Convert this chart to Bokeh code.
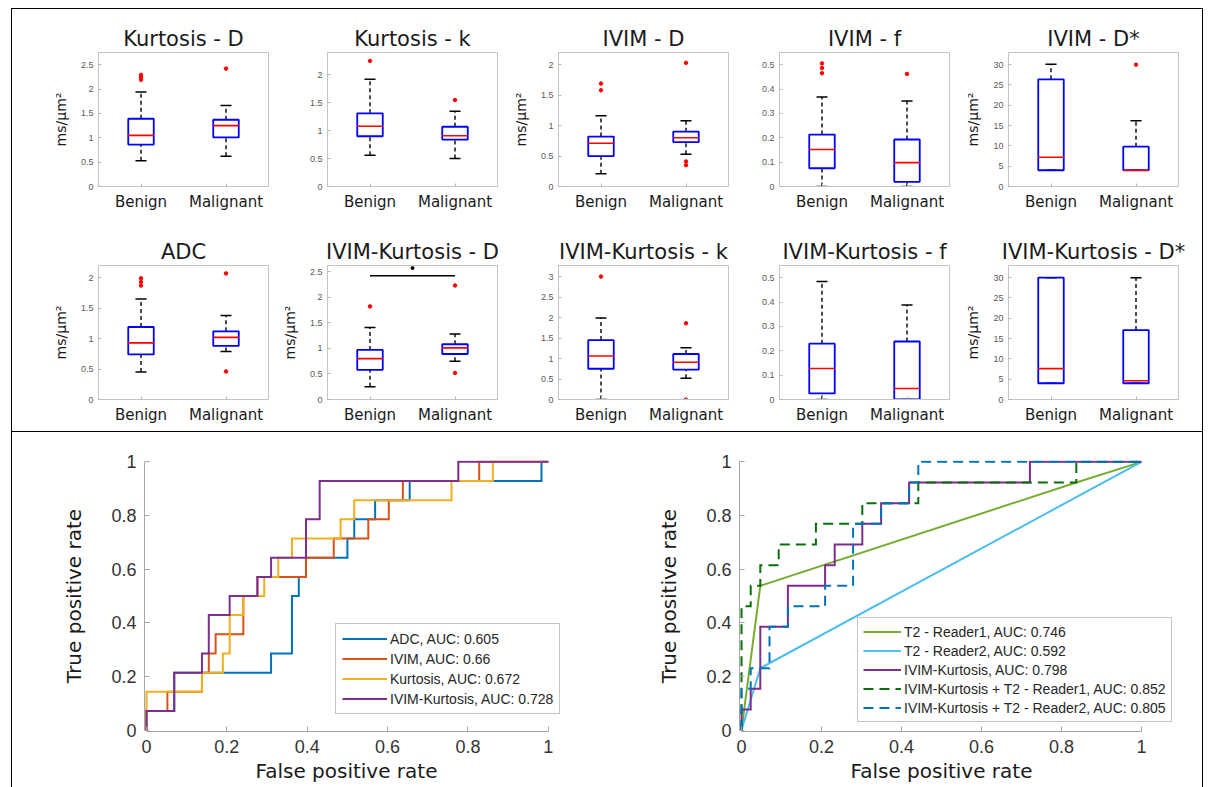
from bokeh.plotting import figure
from bokeh.models import (FixedTicker, NumeralTickFormatter, Range1d, Label,
                          Legend, LegendItem, Spacer, Title)
from bokeh.layouts import row, column
from bokeh.embed import file_html
from bokeh.resources import INLINE

# ------------------------------------------------------------------ data
panel_titles = ["Kurtosis - D", "Kurtosis - k", "IVIM - D", "IVIM - f", "IVIM - D*",
                "ADC", "IVIM-Kurtosis - D", "IVIM-Kurtosis - k", "IVIM-Kurtosis - f",
                "IVIM-Kurtosis - D*"]
panel_units = ["ms/µm²", "", "ms/µm²", "", "ms/µm²",
               "ms/µm²", "ms/µm²", "", "", "ms/µm²"]
panel_ymax = [2.75, 2.4, 2.2, 0.55, 33, 2.2, 2.62, 3.27, 0.55, 33]
panel_yticks = [[0, 0.5, 1, 1.5, 2, 2.5], [0, 0.5, 1, 1.5, 2], [0, 0.5, 1, 1.5, 2],
                [0, 0.1, 0.2, 0.3, 0.4, 0.5], [0, 5, 10, 15, 20, 25, 30],
                [0, 0.5, 1, 1.5, 2], [0, 0.5, 1, 1.5, 2, 2.5], [0, 0.5, 1, 1.5, 2, 2.5, 3],
                [0, 0.1, 0.2, 0.3, 0.4, 0.5], [0, 5, 10, 15, 20, 25, 30]]
groups = ["Benign", "Malignant"]

benign_q1 = [0.86, 0.90, 0.50, 0.075, 4.0, 0.74, 0.58, 0.75, 0.025, 4.0]
benign_med = [1.05, 1.08, 0.71, 0.152, 7.2, 0.93, 0.80, 1.06, 0.127, 7.6]
benign_q3 = [1.39, 1.31, 0.82, 0.213, 26.4, 1.19, 0.97, 1.45, 0.229, 30.0]
benign_lo = [0.53, 0.56, 0.21, 0.0, 4.0, 0.45, 0.25, 0.0, 0.0, 4.0]
benign_hi = [1.94, 1.92, 1.16, 0.367, 30.1, 1.65, 1.41, 1.99, 0.484, 30.0]
benign_out = [[2.19, 2.24, 2.29], [2.25], [1.58, 1.69], [0.465, 0.486, 0.505], [],
              [1.87, 1.93, 1.99], [1.82], [3.0], [], []]

malig_q1 = [1.01, 0.84, 0.73, 0.019, 4.0, 0.88, 0.89, 0.73, 0.0, 4.0]
malig_med = [1.25, 0.91, 0.80, 0.098, 4.0, 1.02, 1.01, 0.91, 0.045, 4.6]
malig_q3 = [1.37, 1.07, 0.90, 0.193, 9.8, 1.12, 1.08, 1.11, 0.238, 17.1]
malig_lo = [0.62, 0.50, 0.53, 0.0, 4.0, 0.79, 0.75, 0.52, 0.0, 4.0]
malig_hi = [1.66, 1.35, 1.08, 0.351, 16.2, 1.38, 1.28, 1.26, 0.388, 30.0]
malig_out = [[2.42], [1.55], [0.35, 0.41, 2.03], [0.462], [30.0],
             [0.46, 2.07], [0.52, 2.23], [0.0, 1.86], [], []]

sig_bar_y = 2.42     # IVIM-Kurtosis - D significance bar
sig_star_y = 2.57

# ROC (b)
adc_fpr = [0, 0, 0.069, 0.069, 0.310, 0.310, 0.362, 0.362, 0.379, 0.379, 0.397, 0.397,
           0.500, 0.500, 0.517, 0.517, 0.569, 0.569, 0.655, 0.655, 0.983, 0.983, 1]
adc_tpr = [0, 0.071, 0.071, 0.214, 0.214, 0.286, 0.286, 0.5, 0.5, 0.571, 0.571, 0.643,
           0.643, 0.714, 0.714, 0.786, 0.786, 0.857, 0.857, 0.929, 0.929, 1, 1]
ivim_fpr = [0, 0, 0.052, 0.052, 0.138, 0.138, 0.155, 0.155, 0.172, 0.172, 0.241, 0.241,
            0.276, 0.276, 0.397, 0.397, 0.466, 0.466, 0.552, 0.552, 0.603, 0.603,
            0.638, 0.638, 0.828, 0.828, 1]
ivim_tpr = [0, 0.071, 0.071, 0.143, 0.143, 0.214, 0.214, 0.286, 0.286, 0.357, 0.357, 0.5,
            0.5, 0.571, 0.571, 0.643, 0.643, 0.714, 0.714, 0.786, 0.786, 0.857, 0.857,
            0.929, 0.929, 1, 1]
kurt_fpr = [0, 0, 0.138, 0.138, 0.190, 0.190, 0.207, 0.207, 0.241, 0.241, 0.293, 0.293,
            0.328, 0.328, 0.362, 0.362, 0.483, 0.483, 0.517, 0.517, 0.759, 0.759,
            0.862, 0.862, 1]
kurt_tpr = [0, 0.143, 0.143, 0.214, 0.214, 0.286, 0.286, 0.429, 0.429, 0.5, 0.5, 0.571,
            0.571, 0.643, 0.643, 0.714, 0.714, 0.786, 0.786, 0.857, 0.857, 0.929, 0.929,
            1, 1]
ik_fpr = [0, 0, 0.069, 0.069, 0.138, 0.138, 0.155, 0.155, 0.207, 0.207, 0.276, 0.276,
          0.310, 0.310, 0.397, 0.397, 0.431, 0.431, 0.776, 0.776, 1]
ik_tpr = [0, 0.071, 0.071, 0.214, 0.214, 0.286, 0.286, 0.429, 0.429, 0.5, 0.5, 0.571,
          0.571, 0.643, 0.643, 0.786, 0.786, 0.929, 0.929, 1, 1]

# ROC (c)
t2r1_fpr = [0, 0.047, 0.837, 1]
t2r1_tpr = [0, 0.538, 0.923, 1]
t2r2_fpr = [0, 0.047, 1]
t2r2_tpr = [0, 0.231, 1]
ikc_fpr = [0, 0, 0.023, 0.023, 0.047, 0.047, 0.116, 0.116, 0.209, 0.209, 0.233, 0.233,
           0.302, 0.302, 0.349, 0.349, 0.419, 0.419, 0.721, 0.721, 1]
ikc_tpr = [0, 0.077, 0.077, 0.154, 0.154, 0.385, 0.385, 0.538, 0.538, 0.615, 0.615, 0.692,
           0.692, 0.769, 0.769, 0.846, 0.846, 0.923, 0.923, 1, 1]
ikr1_fpr = [0, 0, 0.023, 0.023, 0.047, 0.047, 0.093, 0.093, 0.186, 0.186, 0.302, 0.302,
            0.442, 0.442, 0.837, 0.837, 1]
ikr1_tpr = [0, 0.462, 0.462, 0.538, 0.538, 0.615, 0.615, 0.692, 0.692, 0.769, 0.769,
            0.846, 0.846, 0.923, 0.923, 1, 1]
ikr2_fpr = [0, 0, 0.023, 0.023, 0.070, 0.070, 0.116, 0.116, 0.209, 0.209, 0.279, 0.279,
            0.349, 0.349, 0.419, 0.419, 0.442, 0.442, 1]
ikr2_tpr = [0, 0.154, 0.154, 0.231, 0.231, 0.385, 0.385, 0.462, 0.462, 0.538, 0.538,
            0.769, 0.769, 0.846, 0.846, 0.923, 0.923, 1, 1]

roc_ticks = [0, 0.2, 0.4, 0.6, 0.8, 1]
legend_b = ["ADC, AUC: 0.605", "IVIM, AUC: 0.66", "Kurtosis, AUC: 0.672",
            "IVIM-Kurtosis, AUC: 0.728"]
legend_c = ["T2 - Reader1, AUC: 0.746", "T2 - Reader2, AUC: 0.592",
            "IVIM-Kurtosis, AUC: 0.798", "IVIM-Kurtosis + T2 - Reader1, AUC: 0.852",
            "IVIM-Kurtosis + T2 - Reader2, AUC: 0.805"]

# ------------------------------------------------------------------ style
TXT_FONT = "DejaVu Sans"
NUM_FONT = "Liberation Sans"
FRAME_W, FRAME_H = 170, 134
fig_w = [265, 231, 221, 229, 244]
fig_bl = [86, 50, 50, 50, 50]


def make_box(i, col, r):
    w, bl = fig_w[col], fig_bl[col]
    br = w - bl - FRAME_W
    h, top = (222, 43) if r == 0 else (200, 34)
    p = figure(width=w, height=h, x_range=Range1d(0.5, 2.5),
               y_range=Range1d(0, panel_ymax[i]), min_border_left=bl,
               min_border_right=br, min_border_top=top,
               min_border_bottom=h - top - FRAME_H, output_backend="svg",
               toolbar_location=None, title=panel_titles[i])
    p.title.align = "center"
    p.title.text_font = TXT_FONT
    p.title.text_font_size = "21px"
    p.title.text_font_style = "normal"
    p.title.text_color = "#1a1a1a"
    p.title.standoff = 4
    p.grid.visible = False
    p.outline_line_color = "#c4c4c4"
    p.xaxis.ticker = FixedTicker(ticks=[1, 2])
    p.xaxis.major_label_overrides = {1: groups[0], 2: groups[1]}
    p.xaxis.major_label_text_font = TXT_FONT
    p.xaxis.major_label_text_font_size = "15px"
    p.xaxis.major_label_text_color = "#1a1a1a"
    p.xaxis.major_label_standoff = 6
    p.yaxis.ticker = FixedTicker(ticks=panel_yticks[i])
    p.yaxis.formatter = NumeralTickFormatter(format="0.[0]")
    p.yaxis.major_label_text_font = NUM_FONT
    p.yaxis.major_label_text_font_size = "9px"
    p.yaxis.major_label_text_color = "#595959"
    p.yaxis.major_label_standoff = 5
    for ax in (p.xaxis, p.yaxis):
        ax.axis_line_color = "#c4c4c4"
        ax.major_tick_in = 3
        ax.major_tick_out = 0
        ax.major_tick_line_color = "#b5b5b5"
        ax.minor_tick_line_color = None
    if panel_units[i]:
        p.yaxis.axis_label = panel_units[i]
        p.yaxis.axis_label_text_font = TXT_FONT
        p.yaxis.axis_label_text_font_size = "14px"
        p.yaxis.axis_label_text_font_style = "normal"
        p.yaxis.axis_label_text_color = "#1a1a1a"
        p.yaxis.axis_label_standoff = 9

    xs = [1, 2]
    q1 = [benign_q1[i], malig_q1[i]]
    q3 = [benign_q3[i], malig_q3[i]]
    md = [benign_med[i], malig_med[i]]
    lo = [benign_lo[i], malig_lo[i]]
    hi = [benign_hi[i], malig_hi[i]]
    p.segment(x0=xs, y0=q3, x1=xs, y1=hi, line_color="black", line_width=1.4,
              line_dash="4 3")
    p.segment(x0=xs, y0=lo, x1=xs, y1=q1, line_color="black", line_width=1.4,
              line_dash="4 3")
    cl = [x - 0.065 for x in xs]
    cr = [x + 0.065 for x in xs]
    p.segment(x0=cl, y0=hi, x1=cr, y1=hi, line_color="black", line_width=1.5)
    p.segment(x0=cl, y0=lo, x1=cr, y1=lo, line_color="black", line_width=1.5)
    p.quad(left=[x - 0.15 for x in xs], right=[x + 0.15 for x in xs], bottom=q1, top=q3,
           fill_color=None, line_color="#0000ff", line_width=1.8)
    p.segment(x0=[x - 0.15 for x in xs], y0=md, x1=[x + 0.15 for x in xs], y1=md,
              line_color="#ff0000", line_width=1.6)
    ox = [1] * len(benign_out[i]) + [2] * len(malig_out[i])
    oy = benign_out[i] + malig_out[i]
    if ox:
        p.scatter(ox, oy, size=3.5, color="#ff0000")
    if panel_titles[i] == "IVIM-Kurtosis - D":
        p.line([1, 2], [sig_bar_y, sig_bar_y], line_color="black", line_width=1.6)
        p.scatter([1.5], [sig_star_y], size=3, color="black")
    return p


row1 = [make_box(i, i, 0) for i in range(5)]
row2 = [make_box(5 + i, i, 1) for i in range(5)]
row1[0].add_layout(Label(x=-66, y=-27, x_units="screen", y_units="screen", text="a)",
                         text_align="center", text_baseline="middle",
                         text_font=TXT_FONT, text_font_size="21px",
                         text_color="#1a1a1a"))


def make_roc(width, bl, br, x_end, tag, tag_x, xlabel_offset):
    p = figure(width=width, height=355, x_range=Range1d(-0.005, x_end),
               y_range=Range1d(-0.005, 1.005), min_border_left=bl, min_border_right=br,
               min_border_top=28, min_border_bottom=56, output_backend="svg",
               toolbar_location=None)
    p.grid.visible = False
    p.outline_line_color = None
    for ax in (p.xaxis, p.yaxis):
        ax.ticker = FixedTicker(ticks=roc_ticks)
        ax.formatter = NumeralTickFormatter(format="0.[0]")
        ax.bounds = (0, 1)
        ax.axis_line_color = "#a6a6a6"
        ax.major_tick_in = 5
        ax.major_tick_out = 0
        ax.major_tick_line_color = "#a6a6a6"
        ax.minor_tick_line_color = None
        ax.major_label_text_font = NUM_FONT
        ax.major_label_text_font_size = "18px"
        ax.major_label_text_color = "#333333"
        ax.major_label_standoff = 8
        ax.axis_label_text_font = TXT_FONT
        ax.axis_label_text_font_size = "20px"
        ax.axis_label_text_font_style = "normal"
        ax.axis_label_text_color = "#1a1a1a"
    p.yaxis.axis_label = "True positive rate"
    p.yaxis.axis_label_standoff = 22
    # x label: centred under the 0..1 axis (the frame is wider to hold the legend)
    p.add_layout(Title(text="False positive rate", align="left", offset=xlabel_offset,
                       standoff=2, text_font=TXT_FONT, text_font_size="20px",
                       text_font_style="normal", text_color="#1a1a1a"), "below")
    p.add_layout(Label(x=tag_x, y=135, x_units="screen", y_units="screen", text=tag,
                       text_align="center", text_baseline="middle", text_font=TXT_FONT,
                       text_font_size="22px", text_color="#1a1a1a"))
    return p


# b: x=0 at 146 px, x=1 at 548 px (402 px per unit); frame extended right for legend
pb = make_roc(600, 132, 22, 1.105, "b)", -105, 111)
rb = [pb.line(adc_fpr, adc_tpr, line_color="#0072BD", line_width=2, line_join="miter"),
      pb.line(ivim_fpr, ivim_tpr, line_color="#D95319", line_width=2, line_join="miter"),
      pb.line(kurt_fpr, kurt_tpr, line_color="#EDB120", line_width=2, line_join="miter"),
      pb.line(ik_fpr, ik_tpr, line_color="#7E2F8E", line_width=2, line_join="miter")]
pb.add_layout(Legend(items=[LegendItem(label=l, renderers=[r]) for l, r in zip(legend_b, rb)],
                     location=(191, 17), label_text_font=NUM_FONT,
                     label_text_font_size="14px", label_text_color="#262626",
                     glyph_width=45, glyph_height=17, label_height=17, label_standoff=3,
                     spacing=3, padding=6, margin=0, border_line_color="#8c8c8c",
                     border_line_width=1, background_fill_color="white",
                     background_fill_alpha=1))

# c: x=0 at 741 px, x=1 at 1141 px (400 px per unit)
pc = make_roc(590, 127, 13, 1.12, "c)", -102, 111)
rc = [pc.line(t2r1_fpr, t2r1_tpr, line_color="#77AC30", line_width=2),
      pc.line(t2r2_fpr, t2r2_tpr, line_color="#4DBEEE", line_width=2),
      pc.line(ikc_fpr, ikc_tpr, line_color="#7E2F8E", line_width=2, line_join="miter"),
      pc.line(ikr1_fpr, ikr1_tpr, line_color="#0a6e0a", line_width=2, line_dash="10 6",
              line_join="miter"),
      pc.line(ikr2_fpr, ikr2_tpr, line_color="#0072BD", line_width=2, line_dash="10 6",
              line_join="miter")]
pc.add_layout(Legend(items=[LegendItem(label=l, renderers=[r]) for l, r in zip(legend_c, rc)],
                     location=(118, 9), label_text_font=NUM_FONT,
                     label_text_font_size="14px", label_text_color="#262626",
                     glyph_width=38, glyph_height=17, label_height=17, label_standoff=3,
                     spacing=2, padding=5, margin=0, border_line_color="#8c8c8c",
                     border_line_width=1, background_fill_color="white",
                     background_fill_alpha=1))


def vline(h):
    return Spacer(width=1, height=h, styles={"background-color": "#000000"})


def hline(w):
    return Spacer(width=w, height=1, styles={"background-color": "#000000"})


top_content = column(row(*row1), row(*row2))
bottom_content = row(pb, pc)
page = column(
    Spacer(width=1216, height=8),
    row(Spacer(width=11, height=1), hline(1192)),
    row(Spacer(width=11, height=422), vline(422), top_content, vline(422)),
    row(Spacer(width=11, height=1), hline(1192)),
    row(Spacer(width=11, height=355), vline(355), bottom_content, vline(355)),
)

open("out.html", "w").write(file_html(page, INLINE))
